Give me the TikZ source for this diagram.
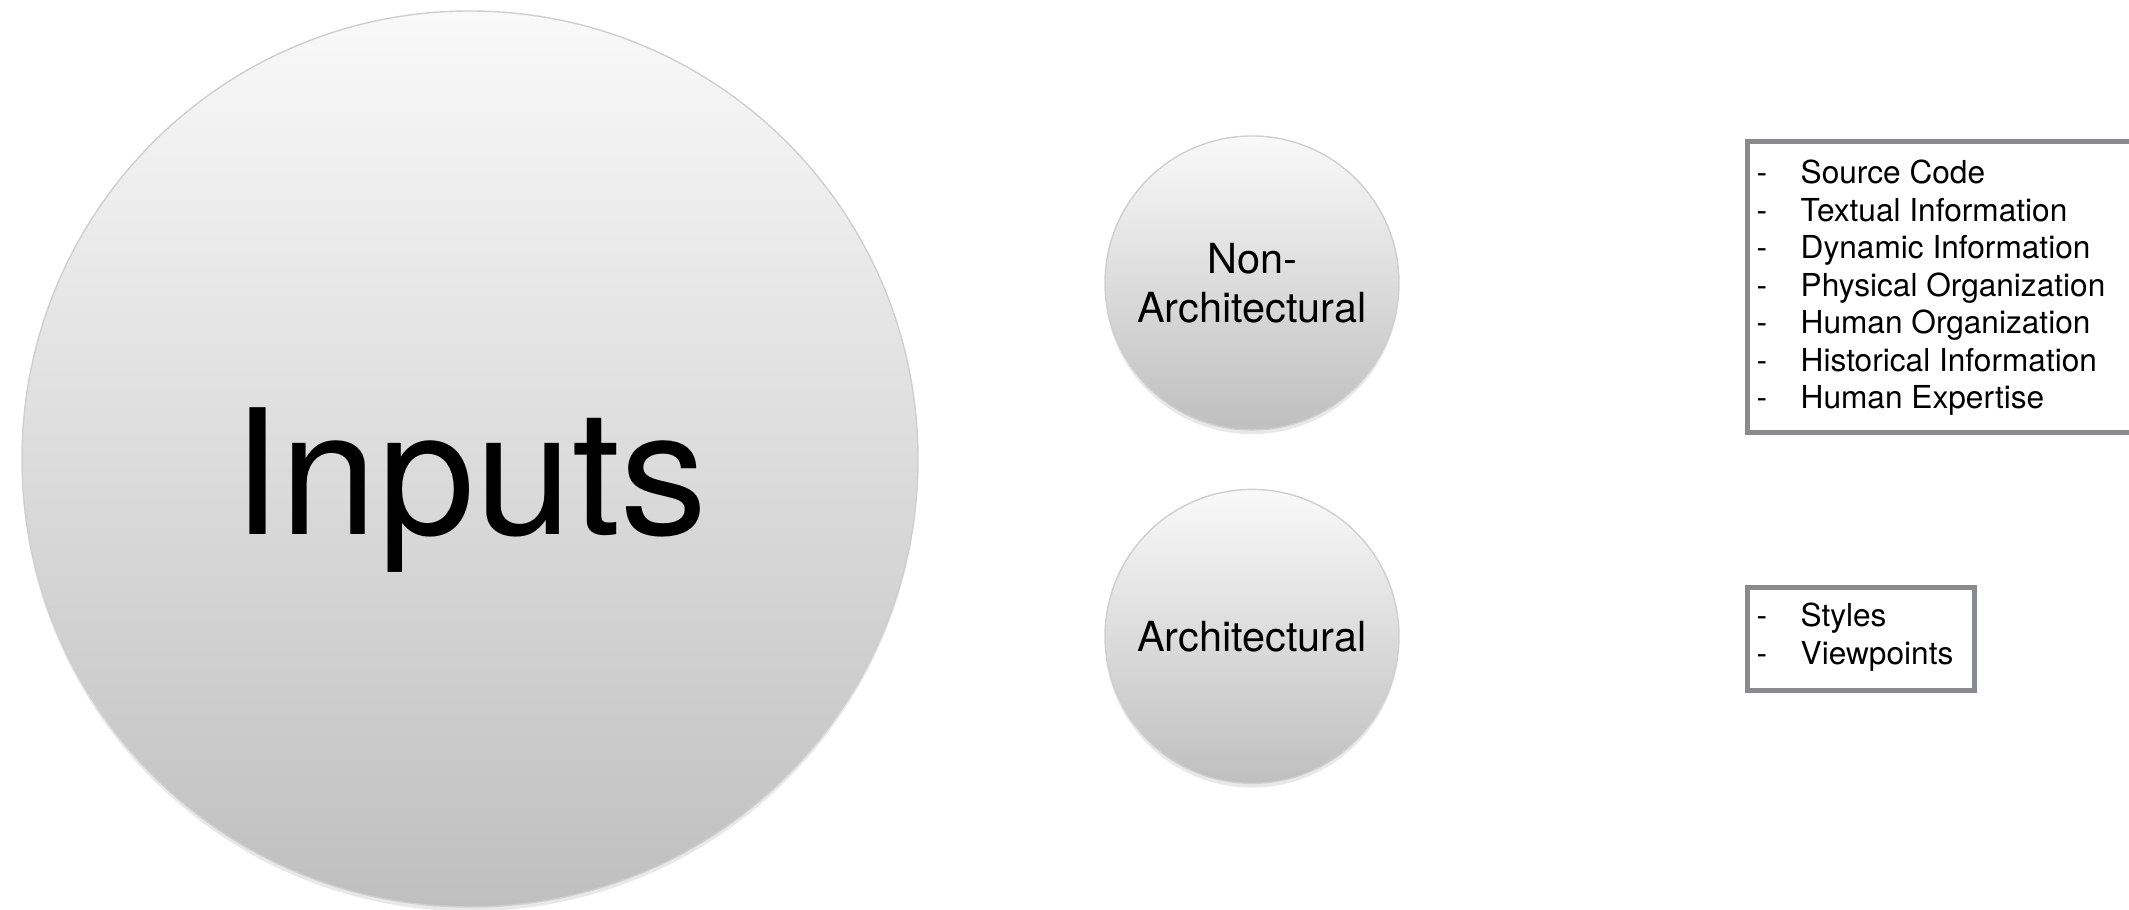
\documentclass[tikz,border=0pt]{standalone}
\usepackage{fontspec}
\setmainfont{TeX Gyre Heros}
\usetikzlibrary{positioning,shadows}

\definecolor{ballrim}{HTML}{CFCFCF}
\definecolor{balltop}{HTML}{F9F9F9}
\definecolor{ballbot}{HTML}{BFBFBF}
\definecolor{boxgray}{HTML}{888A8D}

\tikzset{
    ball/.style={circle, draw=ballrim, thin, top color=balltop, bottom color=ballbot,
        drop shadow={shadow xshift=0pt, shadow yshift=-1.2pt, opacity=0.18}},
    bigball/.style={ball, minimum size=8.96cm, inner sep=0pt},
    smallball/.style={ball, minimum size=2.94cm, inner sep=0pt, align=center,
        font=\fontsize{11.8}{13.9}\selectfont},
    listbox/.style={draw=boxgray, line width=1.4pt, fill=white, anchor=north west, inner sep=0pt},
    listtext/.style={anchor=base west, inner sep=0pt, font=\fontsize{9}{10.67}\selectfont}
}

\begin{document}
\begin{tikzpicture}
    \useasboundingbox (0,0) rectangle (21.29,9.10);

    % circles
    \node[bigball] (inputs) at (4.70,4.51) {};
    \node[anchor=base, font=\fontsize{49.5}{56}\selectfont] (inputslbl) at ([yshift=-0.76cm]inputs.center) {Inputs};

    \node[smallball] (nonarch) at (12.52,6.27) {Non-\\Architectural};
    \node[smallball, below=0.58cm of nonarch] (arch) {Architectural};

    % lists
    \node[listbox, minimum width=4.3cm, minimum height=2.91cm] (srcbox) at (17.45,7.71) {};
    \node[listtext] (srclist) at (17.56,7.26) {\begin{tabular}[t]{@{}p{0.44cm}@{}l@{}}
        - & Source Code\\
        - & Textual Information\\
        - & Dynamic Information\\
        - & Physical Organization\\
        - & Human Organization\\
        - & Historical Information\\
        - & Human Expertise
    \end{tabular}};

    \node[listbox, minimum width=2.27cm, minimum height=1.03cm] (stylebox) at (17.45,3.25) {};
    \node[listtext] (stylelist) at (17.56,2.83) {\begin{tabular}[t]{@{}p{0.44cm}@{}l@{}}
        - & Styles\\
        - & Viewpoints
    \end{tabular}};

\end{tikzpicture}
\end{document}
